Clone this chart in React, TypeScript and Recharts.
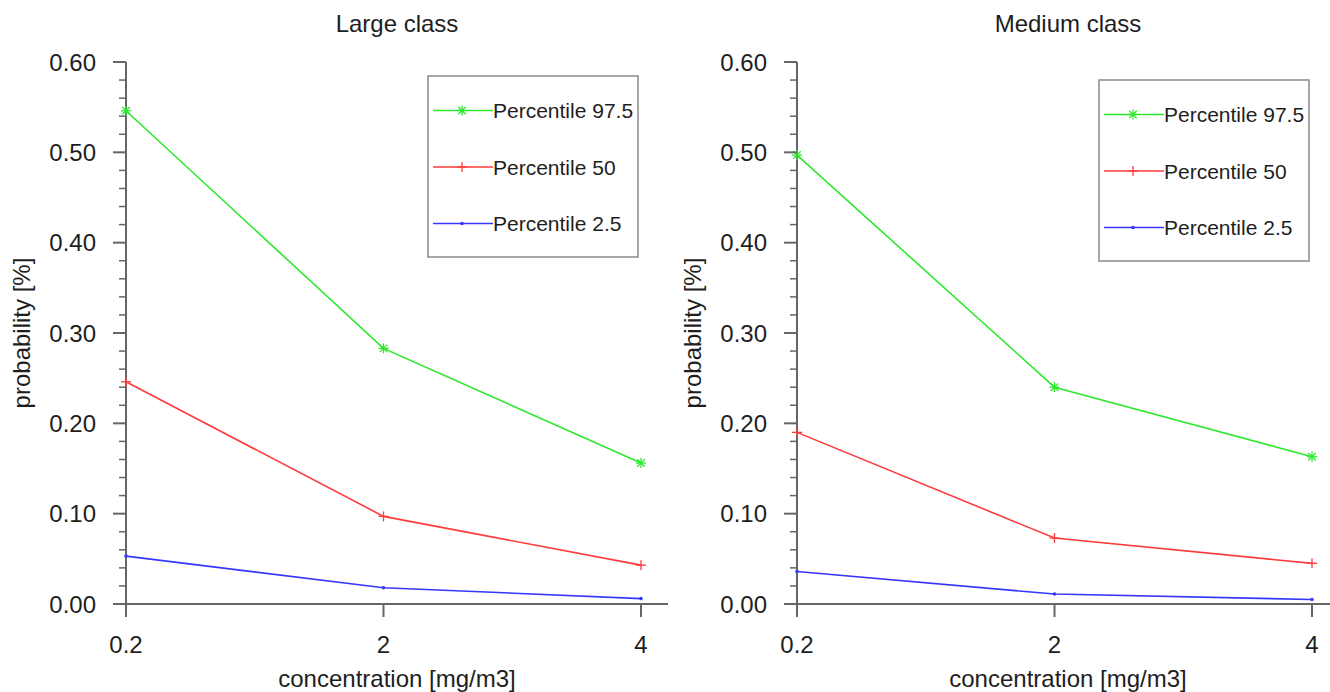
import React from 'react';
import { LineChart, Line, XAxis, YAxis, Label } from 'recharts';

const categories = ['0.2', '2', '4'];

const largeP975 = [0.546, 0.283, 0.156];
const largeP50 = [0.246, 0.097, 0.043];
const largeP25 = [0.053, 0.018, 0.006];

const mediumP975 = [0.497, 0.24, 0.163];
const mediumP50 = [0.19, 0.073, 0.045];
const mediumP25 = [0.036, 0.011, 0.005];

const majorTicks = [0, 0.1, 0.2, 0.3, 0.4, 0.5, 0.6];
const majorTickLabels = ['0.00', '0.10', '0.20', '0.30', '0.40', '0.50', '0.60'];
const minorTicks = [
  0.02, 0.04, 0.06, 0.08, 0.12, 0.14, 0.16, 0.18, 0.22, 0.24, 0.26, 0.28,
  0.32, 0.34, 0.36, 0.38, 0.42, 0.44, 0.46, 0.48, 0.52, 0.54, 0.56, 0.58,
];

const seriesKeys = ['p975', 'p50', 'p25'];
const seriesNames = ['Percentile 97.5', 'Percentile 50', 'Percentile 2.5'];
const seriesColors = ['#2ee82e', '#ff3b3b', '#3636ff'];
const seriesMarkers = ['asterisk', 'plus', 'dot'];

const FONT = '"Liberation Sans", Arial, Helvetica, sans-serif';
const TEXT = '#1e1e1e';
const AXIS = '#666666';

function Marker({ kind, cx, cy, color }: { kind: string; cx: number; cy: number; color: string }) {
  if (kind === 'asterisk') {
    const r = 5;
    const d = r * 0.75;
    return (
      <g stroke={color} strokeWidth={1.3}>
        <line x1={cx - r} y1={cy} x2={cx + r} y2={cy} />
        <line x1={cx} y1={cy - r} x2={cx} y2={cy + r} />
        <line x1={cx - d} y1={cy - d} x2={cx + d} y2={cy + d} />
        <line x1={cx - d} y1={cy + d} x2={cx + d} y2={cy - d} />
      </g>
    );
  }
  if (kind === 'plus') {
    const r = 5;
    return (
      <g stroke={color} strokeWidth={1.3}>
        <line x1={cx - r} y1={cy} x2={cx + r} y2={cy} />
        <line x1={cx} y1={cy - r} x2={cx} y2={cy + r} />
      </g>
    );
  }
  return <circle cx={cx} cy={cy} r={1.8} fill={color} stroke="none" />;
}

function makeDot(kind: string, color: string) {
  return (props: any) => {
    const { cx, cy, index } = props;
    if (cx == null || cy == null) return <g key={`d-${index}`} />;
    return (
      <g key={`d-${kind}-${index}`}>
        <Marker kind={kind} cx={cx} cy={cy} color={color} />
      </g>
    );
  };
}

function YTick(props: any) {
  const { x, y, payload } = props;
  const v = payload.value;
  const mi = majorTicks.findIndex((m) => Math.abs(m - v) < 1e-9);
  if (mi >= 0) {
    return (
      <g>
        <line x1={x - 13} y1={y} x2={x} y2={y} stroke={AXIS} strokeWidth={2} />
        <text x={x - 30} y={y} dy="0.36em" textAnchor="end" fontSize={24} fontFamily={FONT} fill={TEXT}>
          {majorTickLabels[mi]}
        </text>
      </g>
    );
  }
  return <line x1={x - 7} y1={y} x2={x} y2={y} stroke={AXIS} strokeWidth={1.5} />;
}

function Panel({
  title,
  p975,
  p50,
  p25,
  left,
  width,
  padRight,
  legendTop,
}: {
  title: string;
  p975: number[];
  p50: number[];
  p25: number[];
  left: number;
  width: number;
  padRight: number;
  legendTop: number;
}) {
  const data = categories.map((c, i) => ({ x: c, p975: p975[i], p50: p50[i], p25: p25[i] }));
  const legendLeft = 428;
  const legendW = 210;
  const legendH = 181;
  const rowOffsets = [34.5, 91, 147.5];
  return (
    <div style={{ position: 'absolute', left, top: 0, width, height: 692 }}>
      <LineChart width={width} height={692} data={data} margin={{ top: 62, right: Math.max(0, width - 668), left: 0, bottom: 28 }}>
        <XAxis
          dataKey="x"
          type="category"
          padding={{ left: 0, right: padRight }}
          height={60}
          tickSize={13}
          tickMargin={19}
          axisLine={{ stroke: AXIS, strokeWidth: 2 }}
          tickLine={{ stroke: AXIS, strokeWidth: 2 }}
          tick={{ fontSize: 24, fontFamily: FONT, fill: TEXT }}
        >
          <Label
            content={(p: any) => {
              const vb = p.viewBox || {};
              return (
                <text x={397} y={(vb.y ?? 604) + 83} textAnchor="middle" fontSize={24} fontFamily={FONT} fill={TEXT}>
                  concentration [mg/m3]
                </text>
              );
            }}
          />
        </XAxis>
        <YAxis
          type="number"
          domain={[0, 0.6]}
          ticks={[...majorTicks, ...minorTicks].sort((a, b) => a - b)}
          interval={0}
          width={126}
          tickSize={0}
          tickMargin={0}
          axisLine={{ stroke: AXIS, strokeWidth: 2 }}
          tickLine={false}
          tick={<YTick />}
        >
          <Label
            content={(p: any) => {
              const vb = p.viewBox || {};
              const cy = (vb.y ?? 62) + (vb.height ?? 542) / 2;
              const lx = (vb.x ?? 0) + 30;
              return (
                <text
                  x={lx}
                  y={cy}
                  transform={`rotate(-90 ${lx} ${cy})`}
                  textAnchor="middle"
                  fontSize={24}
                  fontFamily={FONT}
                  fill={TEXT}
                >
                  probability [%]
                </text>
              );
            }}
          />
        </YAxis>
        {seriesKeys.map((k, i) => (
          <Line
            key={k}
            dataKey={k}
            name={seriesNames[i]}
            stroke={seriesColors[i]}
            strokeWidth={1.6}
            dot={makeDot(seriesMarkers[i], seriesColors[i])}
            activeDot={false}
            isAnimationActive={false}
          />
        ))}
      </LineChart>
      <svg
        width={width}
        height={692}
        style={{ position: 'absolute', left: 0, top: 0, pointerEvents: 'none' }}
      >
        <text x={397} y={32} textAnchor="middle" fontSize={24} fontFamily={FONT} fill={TEXT}>
          {title}
        </text>
        <rect
          x={legendLeft}
          y={legendTop}
          width={legendW}
          height={legendH}
          fill="#ffffff"
          stroke="#8a8a8a"
          strokeWidth={1.5}
        />
        {seriesNames.map((n, i) => {
          const cy = legendTop + rowOffsets[i];
          return (
            <g key={n}>
              <line x1={legendLeft + 5} y1={cy} x2={legendLeft + 65} y2={cy} stroke={seriesColors[i]} strokeWidth={1.6} />
              <Marker kind={seriesMarkers[i]} cx={legendLeft + 34} cy={cy} color={seriesColors[i]} />
              <text x={legendLeft + 65} y={cy} dy="0.36em" fontSize={21} fontFamily={FONT} fill={TEXT}>
                {n}
              </text>
            </g>
          );
        })}
      </svg>
    </div>
  );
}

export default function App() {
  return (
    <div
      style={{
        position: 'absolute',
        left: 0,
        top: 0,
        width: 1330,
        height: 692,
        background: '#ffffff',
        overflow: 'hidden',
      }}
    >
      <Panel
        title="Large class"
        p975={largeP975}
        p50={largeP50}
        p25={largeP25}
        left={0}
        width={671}
        padRight={27}
        legendTop={76}
      />
      <Panel
        title="Medium class"
        p975={mediumP975}
        p50={mediumP50}
        p25={mediumP25}
        left={671}
        width={659}
        padRight={18}
        legendTop={80}
      />
    </div>
  );
}
